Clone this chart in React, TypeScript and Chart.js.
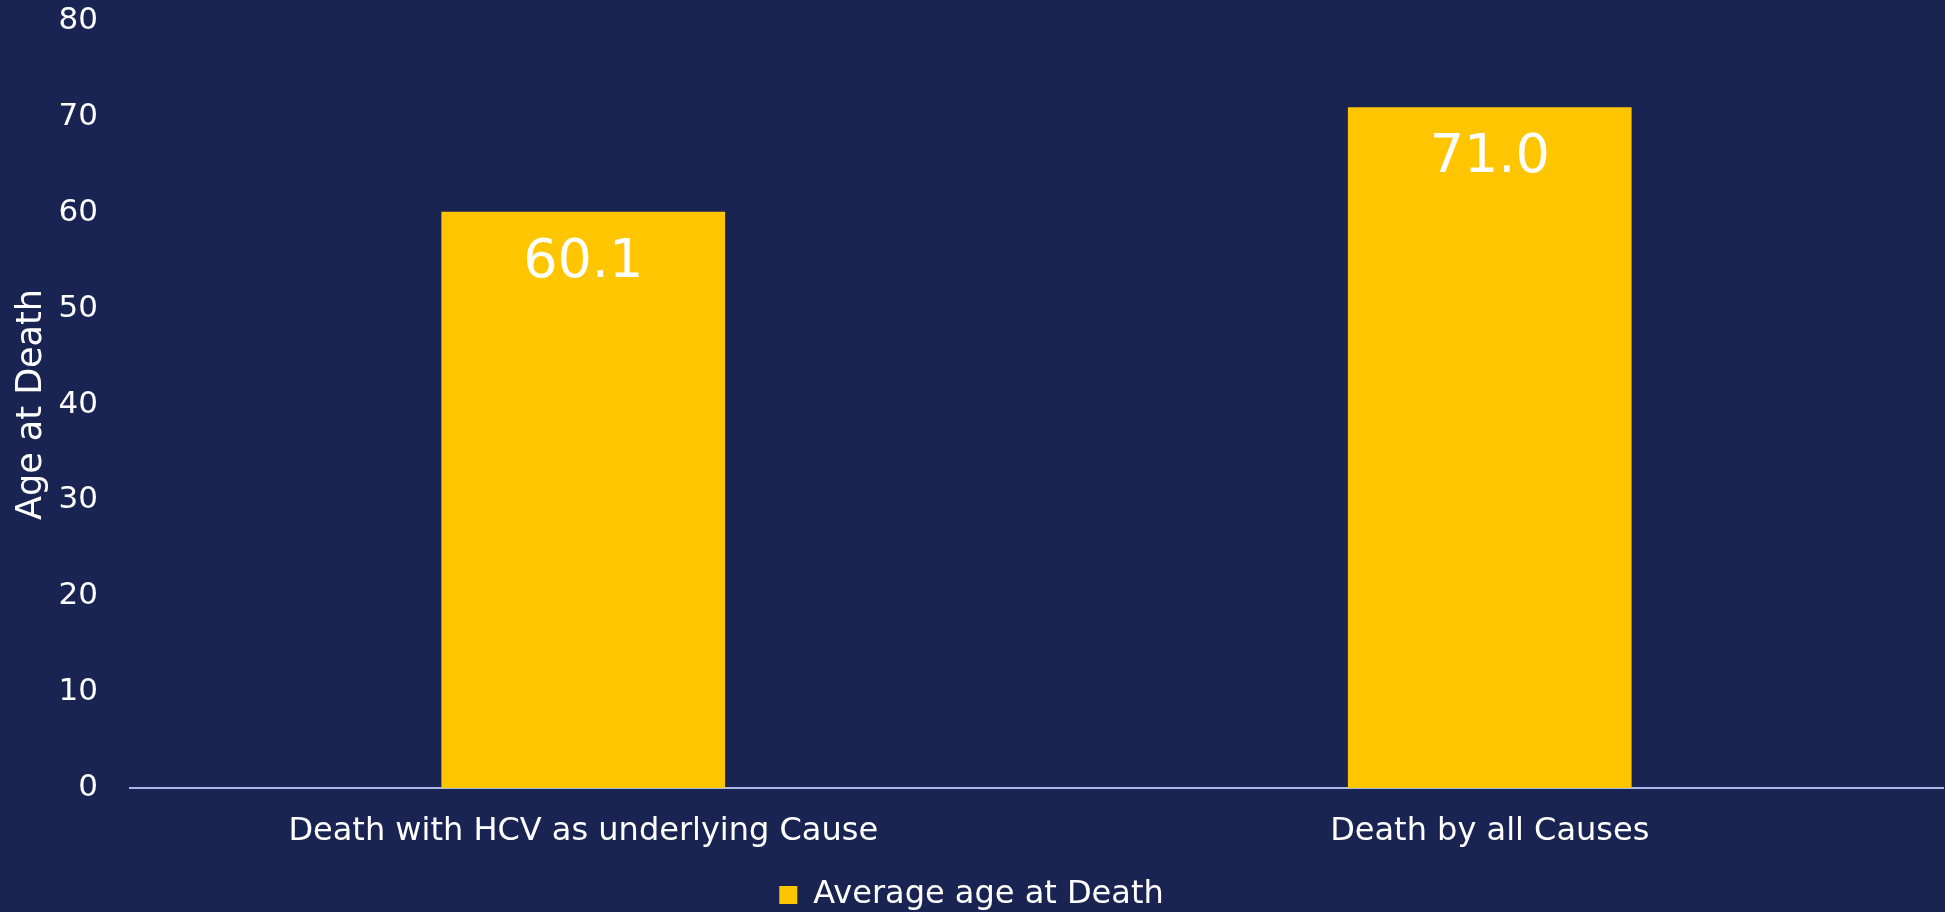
import React, { useEffect, useRef } from "react";
import { Chart, registerables } from "chart.js";

Chart.register(...registerables);

const categories: string[] = ["Death with HCV as underlying Cause", "Death by all Causes"];
const averageAge: number[] = [60.1, 71.0];
const seriesLabel = "Average age at Death";
const yTitle = "Age at Death";
const yMin = 0;
const yMax = 80;
const yStep = 10;

const BG = "#1A2452";
const BAR = "#FFC600";
const FONT = "'DejaVu Sans', Verdana, sans-serif";

const valueLabels = {
  id: "valueLabels",
  afterDatasetsDraw(chart: any) {
    const ctx = chart.ctx;
    const meta = chart.getDatasetMeta(0);
    ctx.save();
    ctx.fillStyle = "#FFFFFF";
    ctx.font = `54px ${FONT}`;
    ctx.textAlign = "center";
    ctx.textBaseline = "alphabetic";
    meta.data.forEach((bar: any, i: number) => {
      const v = chart.data.datasets[0].data[i] as number;
      ctx.fillText(v.toFixed(1), bar.x, bar.y + 65);
    });
    ctx.restore();
  },
};

const legendShift = {
  id: "legendShift",
  afterLayout(chart: any) {
    const lg = chart.legend;
    if (lg) {
      lg.top += 9;
      lg.bottom += 9;
    }
  },
};

export default function App() {
  const ref = useRef<HTMLCanvasElement | null>(null);

  useEffect(() => {
    document.body.style.margin = "0";
    document.body.style.background = BG;
    const canvas = ref.current;
    if (!canvas) return;
    const chart = new Chart(canvas, {
      type: "bar",
      data: {
        labels: categories,
        datasets: [
          {
            label: seriesLabel,
            data: averageAge,
            backgroundColor: BAR,
            borderWidth: 0,
            barPercentage: 0.313,
            categoryPercentage: 1,
          },
        ],
      },
      options: {
        responsive: false,
        animation: false,
        layout: { padding: { top: 21, right: 2, left: 0, bottom: 0 } },
        plugins: {
          tooltip: { enabled: false },
          legend: {
            position: "bottom",
            labels: {
              color: "#FFFFFF",
              font: { family: FONT, size: 32 },
              boxWidth: 18,
              boxHeight: 18,
              padding: 10,
            },
          },
        },
        scales: {
          x: {
            grid: { display: false, drawTicks: false },
            border: { display: true, color: "#A9B9E9", width: 2 },
            ticks: {
              color: "#FFFFFF",
              font: { family: FONT, size: 32 },
              padding: 24,
              maxRotation: 0,
              autoSkip: false,
            },
            afterFit(scale: any) {
              scale.height = 72;
              scale.paddingLeft = 0;
              scale.paddingRight = 0;
            },
          },
          y: {
            min: yMin,
            max: yMax,
            grid: { display: false, drawTicks: false },
            border: { display: false },
            ticks: {
              stepSize: yStep,
              color: "#FFFFFF",
              font: { family: FONT, size: 31 },
              padding: 32,
            },
            title: {
              display: true,
              text: yTitle,
              color: "#FFFFFF",
              font: { family: FONT, size: 35 },
              padding: { top: 11, bottom: 0 },
            },
            afterFit(scale: any) {
              scale.width = 130;
              scale.paddingTop = 0;
              scale.paddingBottom = 0;
            },
          },
        },
      },
      plugins: [valueLabels, legendShift],
    });
    return () => chart.destroy();
  }, []);

  return (
    <div style={{ position: "fixed", left: 0, top: 0, width: 1945, height: 912, background: BG }}>
      <canvas ref={ref} width={1945} height={912} style={{ display: "block" }} />
    </div>
  );
}
